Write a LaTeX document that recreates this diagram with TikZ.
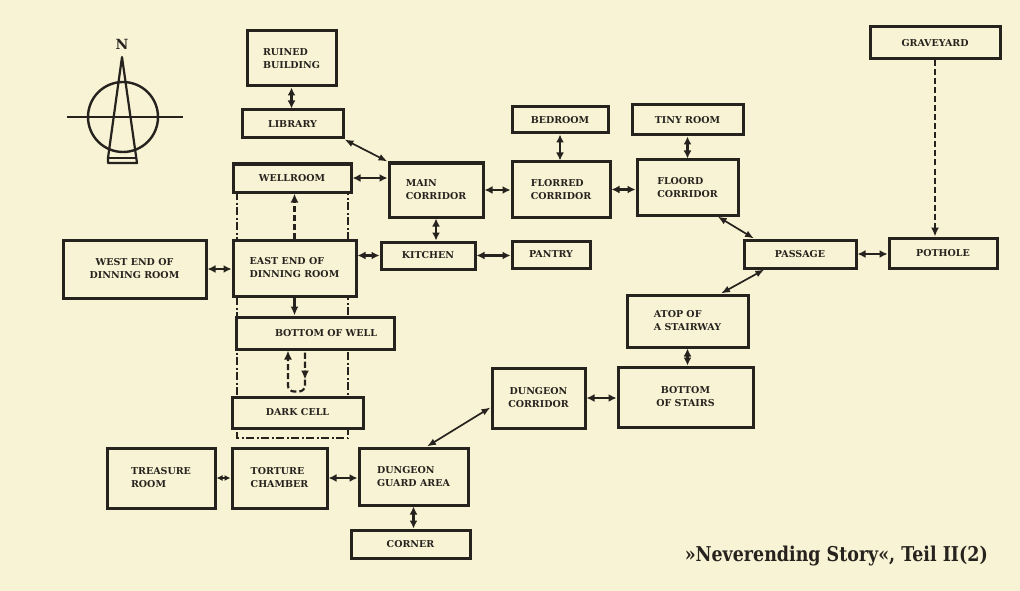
\documentclass[tikz,border=0pt]{standalone}
\usepackage{fontspec}
\setmainfont{DejaVu Serif}
\usetikzlibrary{arrows.meta,calc}
\definecolor{bg}{RGB}{247,243,212}
\definecolor{ink}{RGB}{38,34,30}
\begin{document}
\begin{tikzpicture}[x=1pt,y=-1pt,
  room/.style={draw=ink,line width=3pt,fill=bg,inner sep=2pt,font=\bfseries\fontsize{9.5}{13}\selectfont,text=ink,align=center},
  lroom/.style={room,align=left},
  dbl/.style={draw=ink,line width=2.6pt,{Latex[length=8pt,width=8pt]}-{Latex[length=8pt,width=8pt]}},
  diag/.style={draw=ink,line width=1.7pt,{Latex[length=9pt,width=7pt]}-{Latex[length=9pt,width=7pt]}},
  dsh/.style={draw=ink,line width=2.2pt,dash pattern=on 6pt off 3pt},
  ddot/.style={draw=ink,line width=1.8pt,dash pattern=on 8pt off 2.5pt on 2pt off 2.5pt}]
\fill[bg] (0,0) rectangle (1020,591);
\useasboundingbox (0,0) rectangle (1020,591);

% compass
\draw[ink,line width=2.4pt] (123,117) circle (35);
\draw[ink,line width=2pt] (67,117) -- (183,117);
\draw[ink,line width=2.2pt,line join=round] (122,57) -- (108,158) -- (108,163) -- (137,163) -- cycle;
\draw[ink,line width=2pt] (108,158) -- (136.3,158);
\node[text=ink,font=\bfseries\fontsize{14}{14}\selectfont] (north) at (122,44) {N};

% well shaft outline
\coordinate (wl) at (237,438);
\coordinate (wr) at (348,438);
\coordinate (wlt) at (237,192);
\coordinate (wrt) at (348,192);
\draw[ddot] (wlt) -- (wl) -- (wr) -- (wrt);

% rooms
\node[lroom,minimum width=89pt,minimum height=55pt] (ruined) at (291.5,58.5) {RUINED\\BUILDING};
\node[room,minimum width=101pt,minimum height=28pt] (library) at (292.5,124) {LIBRARY};
\node[room,minimum width=118pt,minimum height=28pt] (wellroom) at (292,178) {WELLROOM};
\node[lroom,minimum width=123pt,minimum height=56pt] (eastend) at (294.5,268) {EAST END OF\\DINNING ROOM};
\node[room,minimum width=143pt,minimum height=58pt] (westend) at (134.5,269) {WEST END OF\\DINNING ROOM};
\node[room,minimum width=158pt,minimum height=32pt] (bottomwell) at (315,333) {\hspace*{22pt}BOTTOM OF WELL};
\node[room,minimum width=131pt,minimum height=31pt] (darkcell) at (297.5,412.5) {DARK CELL};
\node[lroom,minimum width=94pt,minimum height=54pt] (maincorr) at (436,190) {MAIN\\CORRIDOR};
\node[room,minimum width=94pt,minimum height=27pt] (kitchen) at (428,255.5) {KITCHEN};
\node[room,minimum width=78pt,minimum height=27pt] (pantry) at (551,254.5) {PANTRY};
\node[lroom,minimum width=98pt,minimum height=55pt] (florred) at (561,189.5) {FLORRED\\CORRIDOR};
\node[lroom,minimum width=101pt,minimum height=55pt] (floord) at (687.5,187.5) {FLOORD\\CORRIDOR};
\node[room,minimum width=96pt,minimum height=26pt] (bedroom) at (560,120) {BEDROOM};
\node[room,minimum width=111pt,minimum height=30pt] (tiny) at (687.5,120) {TINY ROOM};
\node[room,minimum width=130pt,minimum height=32pt] (graveyard) at (935,43) {GRAVEYARD};
\node[room,minimum width=112pt,minimum height=28pt] (passage) at (800,254) {PASSAGE};
\node[room,minimum width=108pt,minimum height=30pt] (pothole) at (943,253) {POTHOLE};
\node[lroom,minimum width=121pt,minimum height=52pt] (atop) at (687.5,321) {ATOP OF\\A STAIRWAY};
\node[room,minimum width=135pt,minimum height=60pt] (bstairs) at (685.5,397) {BOTTOM\\OF STAIRS};
\node[room,minimum width=93pt,minimum height=60pt] (dcorr) at (538.5,398) {DUNGEON\\CORRIDOR};
\node[lroom,minimum width=109pt,minimum height=57pt] (guard) at (413.5,476.5) {DUNGEON\\GUARD AREA};
\node[room,minimum width=119pt,minimum height=28pt] (corner) at (410.5,544) {CORNER};
\node[lroom,minimum width=95pt,minimum height=60pt] (torture) at (279.5,478) {TORTURE\\CHAMBER};
\node[lroom,minimum width=108pt,minimum height=60pt] (treasure) at (161,478) {TREASURE\\ROOM};

% connectors
\draw[dbl] (ruined.south) -- (ruined.south |- library.north);
\draw[diag] (library.south east) -- (maincorr.north west);
\draw[dbl] (wellroom.east) -- (wellroom.east -| maincorr.west);
\draw[dbl] (westend.east) -- (westend.east -| eastend.west);
\draw[dbl] (eastend.east |- kitchen.west) -- (kitchen.west);
\draw[dbl] (maincorr.south) -- (maincorr.south |- kitchen.north);
\draw[dbl] (maincorr.east) -- (maincorr.east -| florred.west);
\draw[dbl] (kitchen.east) -- (kitchen.east -| pantry.west);
\draw[dbl] (bedroom.south) -- (bedroom.south |- florred.north);
\draw[dbl] (tiny.south) -- (tiny.south |- floord.north);
\draw[dbl] (florred.east) -- (florred.east -| floord.west);
\draw[diag] ($(floord.south)!0.58!(floord.south east)$) -- ($(passage.north west)!0.1!(passage.north east)$);
\draw[dbl] (passage.east) -- (passage.east -| pothole.west);
\draw[dsh,-{Latex[length=9pt,width=8pt]}] (graveyard.south) -- (graveyard.south |- pothole.north);
\draw[diag] ($(passage.south west)!0.19!(passage.south east)$) -- ($(atop.north west)!0.77!(atop.north east)$);
\draw[dbl] (atop.south) -- (atop.south |- bstairs.north);
\draw[dbl] (dcorr.east) -- (dcorr.east -| bstairs.west);
\draw[diag] ($(dcorr.north west)!0.65!(dcorr.south west)$) -- ($(guard.north west)!0.62!(guard.north east)$);
\draw[dbl] (torture.east) -- (torture.east -| guard.west);
\draw[dbl,line width=2pt,{Latex[length=6pt,width=6pt]}-{Latex[length=6pt,width=6pt]}] (treasure.east) -- (treasure.east -| torture.west);
\draw[dbl] (guard.south) -- (guard.south |- corner.north);
% well column
\draw[dsh,-{Latex[length=9pt,width=8pt]}] (eastend.north) -- (eastend.north |- wellroom.south);
\draw[draw=ink,line width=2.4pt,-{Latex[length=9pt,width=8pt]}] (eastend.south) -- (eastend.south |- bottomwell.north);
\coordinate (loopr) at ($(bottomwell.south)+(-10,2)$);
\coordinate (loopl) at ($(bottomwell.south)+(-27,0)$);
\draw[dsh,rounded corners=6pt,-{Latex[length=9pt,width=8pt]}] (loopr) -- ++(0,39) -| (loopl);
\draw[dsh,-{Latex[length=9pt,width=8pt]}] (loopr) -- ++(0,27);

% caption
\node[anchor=east,text=ink,inner sep=0pt] (caption) at (988,556) {\resizebox{303pt}{15.5pt}{\bfseries »Neverending Story«, Teil II(2)}};
\end{tikzpicture}
\end{document}
